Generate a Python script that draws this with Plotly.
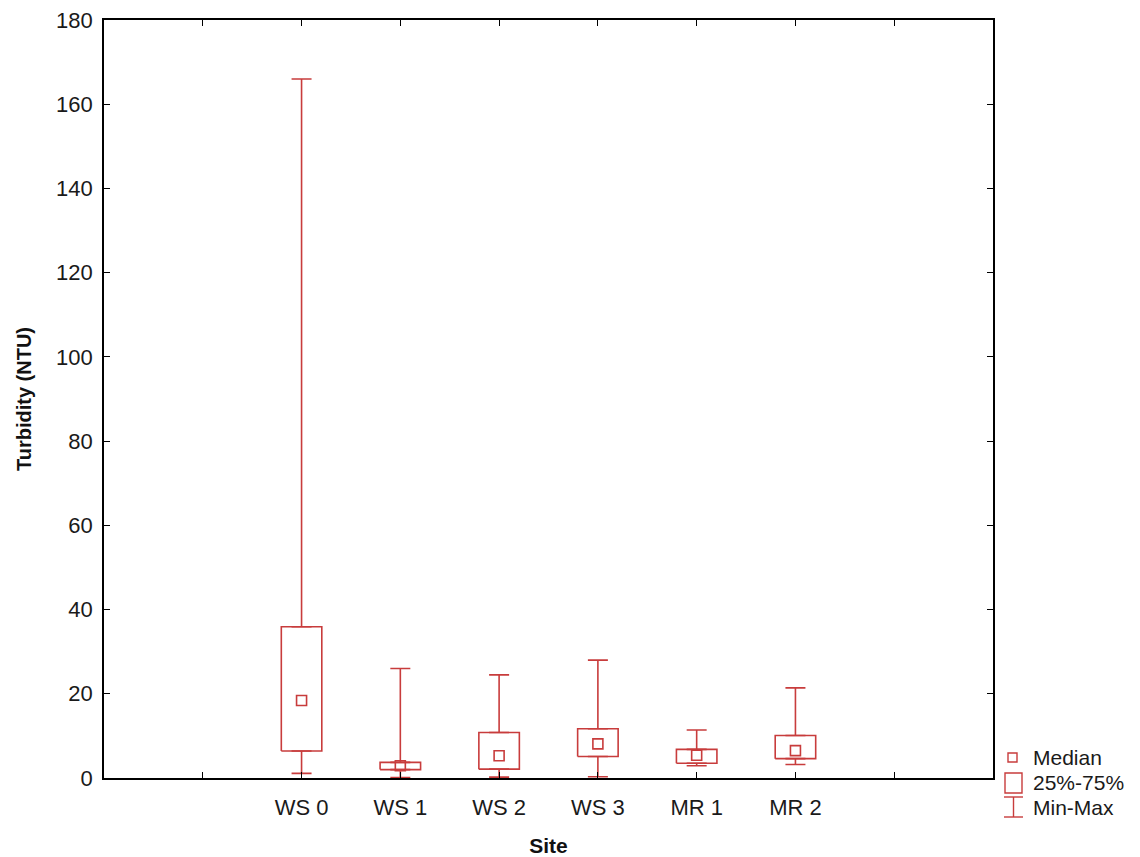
import plotly.graph_objects as go

sites = ["WS 0", "WS 1", "WS 2", "WS 3", "MR 1", "MR 2"]
minimum = [1.1, 0.1, 0.2, 0.3, 2.9, 3.2]
q1 = [6.4, 2.0, 2.1, 5.1, 3.5, 4.6]
median = [18.4, 2.9, 5.3, 8.1, 5.4, 6.5]
q3 = [35.9, 3.7, 10.8, 11.7, 6.8, 10.1]
maximum = [166.0, 26.0, 24.5, 28.0, 11.4, 21.4]

RED = "#c83c3c"
FONT = "Liberation Sans, Arial, sans-serif"
half_w = 0.205

pos = list(range(len(sites)))

fig = go.Figure()

# boxes (25%-75%)
bx, by = [], []
for i, a, b in zip(pos, q1, q3):
    bx += [i - half_w, i + half_w, i + half_w, i - half_w, i - half_w, None]
    by += [a, a, b, b, a, None]
fig.add_trace(go.Scatter(x=bx, y=by, mode="lines", line=dict(color=RED, width=1.6),
                         hoverinfo="skip", showlegend=False))

# upper whiskers
fig.add_trace(go.Scatter(
    x=pos, y=q3, mode="markers", marker=dict(size=1, color="rgba(0,0,0,0)"),
    error_y=dict(type="data", symmetric=False,
                 array=[mx - b for mx, b in zip(maximum, q3)],
                 arrayminus=[0] * len(pos), color=RED, thickness=1.6, width=10),
    showlegend=False, hoverinfo="skip"))
# lower whiskers
fig.add_trace(go.Scatter(
    x=pos, y=q1, mode="markers", marker=dict(size=1, color="rgba(0,0,0,0)"),
    error_y=dict(type="data", symmetric=False,
                 array=[0] * len(pos),
                 arrayminus=[a - mn for a, mn in zip(q1, minimum)], color=RED, thickness=1.6, width=10),
    showlegend=False, hoverinfo="skip"))
# medians
fig.add_trace(go.Scatter(
    x=pos, y=median, mode="markers",
    marker=dict(symbol="square-open", size=10, color=RED, line=dict(width=1.6)),
    showlegend=False, hoverinfo="skip"))

axis_common = dict(showline=True, linecolor="black", linewidth=1.6, mirror="ticks",
                   ticks="inside", ticklen=6, tickcolor="black", tickwidth=1.4,
                   showgrid=False, zeroline=False, automargin=False,
                   tickfont=dict(family=FONT, size=22, color="#1a1a1a"))

fig.update_xaxes(range=[-2, 7], tickmode="array",
                 tickvals=[-1] + pos + [6], ticktext=[""] + sites + [""],
                 title=dict(text="<b>Site</b>", font=dict(family=FONT, size=21, color="#111"), standoff=22),
                 ticklabelstandoff=9, **axis_common)
fig.update_yaxes(range=[0, 180], dtick=20,
                 title=dict(text="<b>Turbidity (NTU)</b>", font=dict(family=FONT, size=20, color="#111"), standoff=19),
                 ticklabelstandoff=5, **axis_common)

# custom legend
px_w = 993 - 104
px_h = 778 - 20
def xp(x):
    return (x - 104) / px_w
def yp(y):
    return (778 - y) / px_h

shapes = [
    dict(type="rect", xref="paper", yref="paper", x0=xp(1008), x1=xp(1017), y0=yp(762), y1=yp(753),
         line=dict(color=RED, width=1.4), fillcolor="white"),
    dict(type="rect", xref="paper", yref="paper", x0=xp(1005), x1=xp(1022), y0=yp(793), y1=yp(773),
         line=dict(color=RED, width=1.4), fillcolor="white"),
    dict(type="line", xref="paper", yref="paper", x0=xp(1013.5), x1=xp(1013.5), y0=yp(797), y1=yp(817),
         line=dict(color=RED, width=1.4)),
    dict(type="line", xref="paper", yref="paper", x0=xp(1004), x1=xp(1023), y0=yp(797), y1=yp(797),
         line=dict(color=RED, width=1.4)),
    dict(type="line", xref="paper", yref="paper", x0=xp(1004), x1=xp(1023), y0=yp(817), y1=yp(817),
         line=dict(color=RED, width=1.4)),
]
annotations = []
for label, yc in [("Median", 757), ("25%-75%", 782), ("Min-Max", 807)]:
    annotations.append(dict(text=label, xref="paper", yref="paper", x=xp(1031), y=yp(yc),
                            xanchor="left", yanchor="middle", showarrow=False,
                            font=dict(family=FONT, size=21, color="#1a1a1a")))

fig.update_layout(
    width=1140, height=857,
    margin=dict(l=104, r=147, t=20, b=79, autoexpand=False),
    paper_bgcolor="white", plot_bgcolor="white",
    showlegend=False, shapes=shapes, annotations=annotations,
)

fig.write_html("out.html")
